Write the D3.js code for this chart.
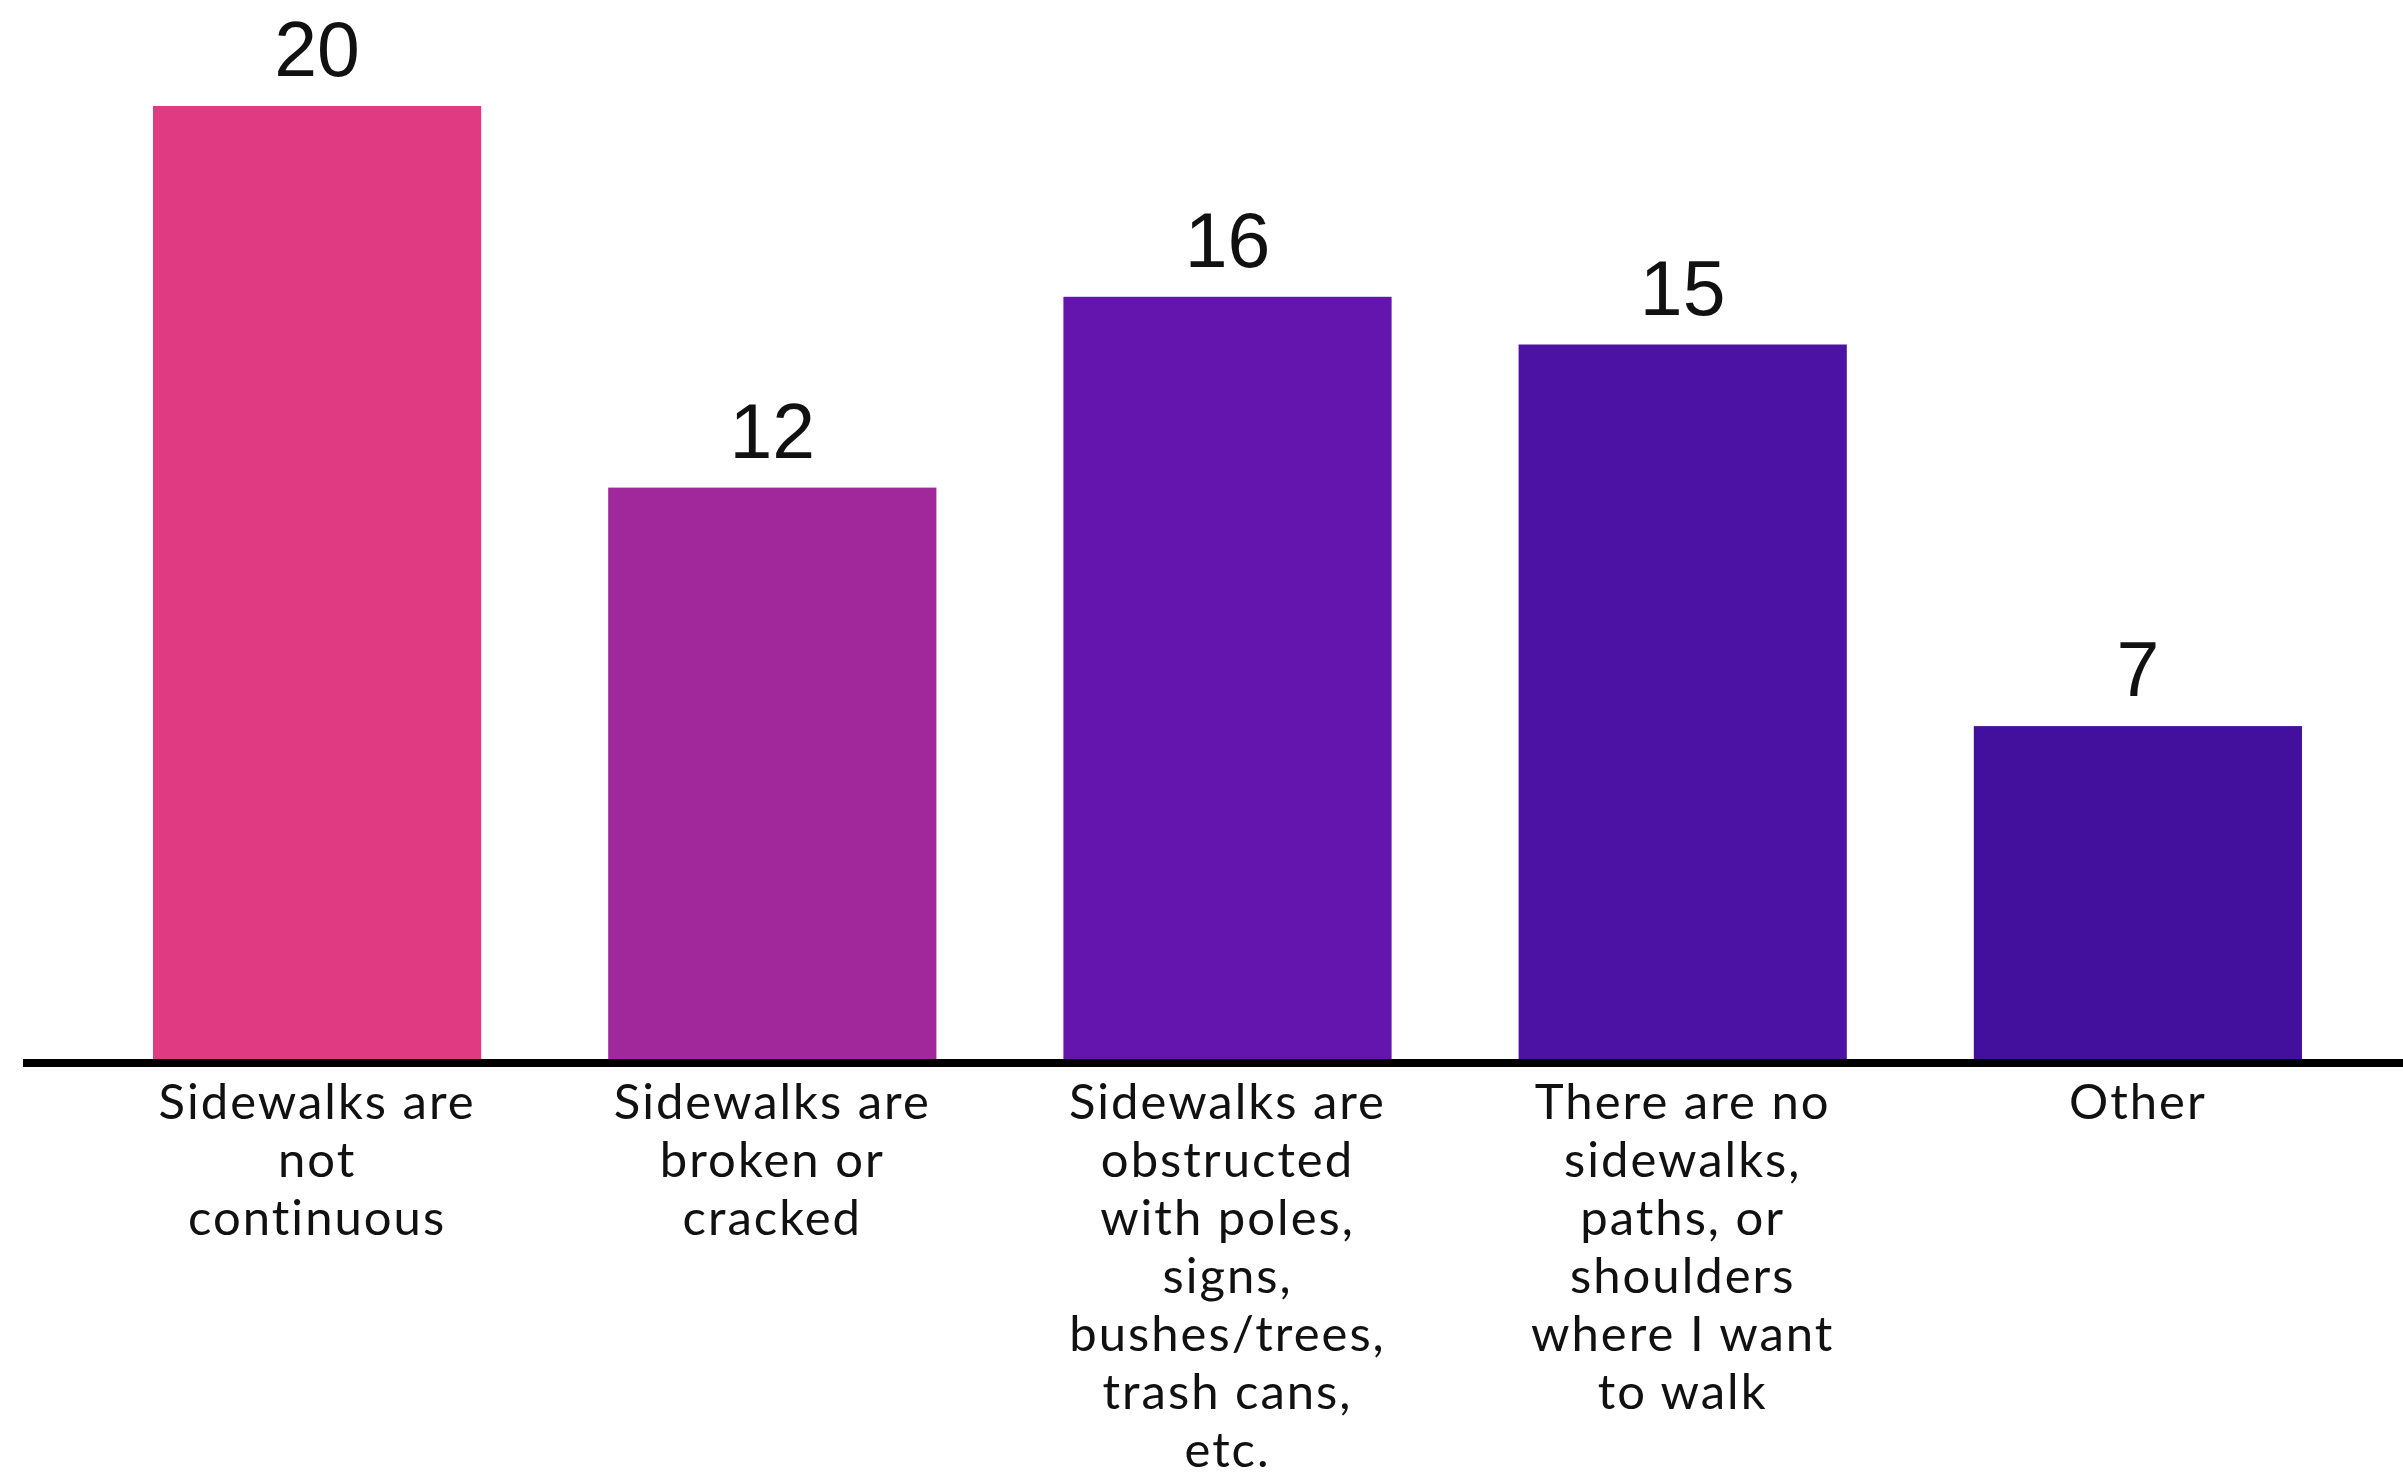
<!DOCTYPE html>
<html>
<head>
<meta charset="utf-8">
<script src="https://cdn.jsdelivr.net/npm/d3@7"></script>
<style>
  html, body { margin: 0; padding: 0; background: #ffffff; }
  svg { display: block; }
</style>
</head>
<body>
<svg id="chart" width="2403" height="1474"></svg>
<script>
// ---- data ----
const categories = [
  "Sidewalks are not continuous",
  "Sidewalks are broken or cracked",
  "Sidewalks are obstructed with poles, signs, bushes/trees, trash cans, etc.",
  "There are no sidewalks, paths, or shoulders where I want to walk",
  "Other"
];
const categoryLines = [
  ["Sidewalks are", "not", "continuous"],
  ["Sidewalks are", "broken or", "cracked"],
  ["Sidewalks are", "obstructed", "with poles,", "signs,", "bushes/trees,", "trash cans,", "etc."],
  ["There are no", "sidewalks,", "paths, or", "shoulders", "where I want", "to walk"],
  ["Other"]
];
const values = [20, 12, 16, 15, 7];
const colors = ["#E03A82", "#A1289B", "#6415AE", "#4C12A4", "#43109E"];

// ---- layout ----
const svg = d3.select("#chart");
const baseY = 1060;
const x = d3.scaleBand()
  .domain(categories)
  .range([153, 2302])
  .paddingInner(0.279)
  .paddingOuter(0);
const y = d3.scaleLinear().domain([0, 20]).range([baseY, 106]);

// bars
svg.append("g").selectAll("rect")
  .data(values)
  .join("rect")
  .attr("x", (d, i) => x(categories[i]))
  .attr("width", x.bandwidth())
  .attr("y", d => y(d))
  .attr("height", d => y(0) - y(d))
  .attr("fill", (d, i) => colors[i]);

// value labels
svg.append("g").selectAll("text")
  .data(values)
  .join("text")
  .attr("x", (d, i) => x(categories[i]) + x.bandwidth() / 2)
  .attr("y", d => y(d) - 30)
  .attr("text-anchor", "middle")
  .attr("font-family", "'Liberation Sans', Arial, sans-serif")
  .attr("font-size", 77)
  .attr("fill", "#111")
  .text(d => d);

// baseline axis
const xAxis = d3.axisBottom(x).tickSize(0).tickFormat("");
const axisG = svg.append("g")
  .attr("transform", `translate(0,${baseY + 3})`)
  .call(xAxis);
axisG.select(".domain").remove();
axisG.append("line")
  .attr("x1", 23).attr("x2", 2403)
  .attr("y1", 0).attr("y2", 0)
  .attr("stroke", "#000")
  .attr("stroke-width", 8);

// category labels
const lab = svg.append("g").selectAll("text")
  .data(categories)
  .join("text")
  .attr("x", d => x(d) + x.bandwidth() / 2)
  .attr("y", 1119)
  .attr("text-anchor", "middle")
  .attr("font-family", "Lato, sans-serif")
  .attr("font-size", 49)
  .attr("letter-spacing", 2)
  .attr("fill", "#111");
lab.each(function(d, i) {
  const t = d3.select(this);
  const cx = x(d) + x.bandwidth() / 2;
  categoryLines[i].forEach((ln, j) => {
    t.append("tspan")
      .attr("x", cx)
      .attr("dy", j === 0 ? 0 : 58)
      .text(ln);
  });
});
</script>
</body>
</html>
